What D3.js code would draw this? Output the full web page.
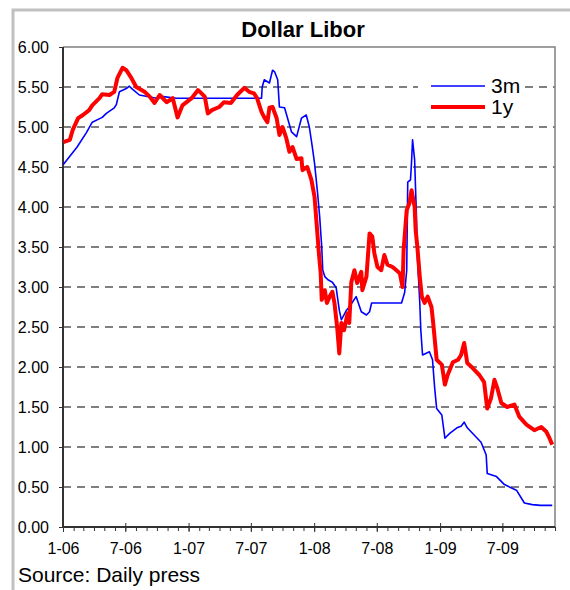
<!DOCTYPE html>
<html>
<head>
<meta charset="utf-8">
<title>Dollar Libor</title>
<script src="https://cdnjs.cloudflare.com/ajax/libs/d3/7.8.5/d3.min.js"></script>
<style>
  body { margin: 0; background: #fff; }
  text { font-family: Arial, "Liberation Sans", sans-serif; }
</style>
</head>
<body>
<script>
// 3 month libor
var dates3m = ["2006-01-02","2006-02-11","2006-03-10","2006-03-27","2006-04-25","2006-05-07","2006-05-30",
  "2006-06-05","2006-06-14","2006-07-04","2006-07-13","2006-07-20","2006-08-11","2006-09-30","2006-10-20",
  "2006-11-27","2007-03-01","2007-06-01","2007-08-01","2007-08-03","2007-08-09","2007-08-24","2007-09-02",
  "2007-09-08","2007-09-17","2007-09-22","2007-10-07","2007-10-27","2007-11-11","2007-11-25","2007-12-09",
  "2007-12-18","2007-12-27","2008-01-02","2008-01-11","2008-01-17","2008-01-23","2008-01-26","2008-02-01",
  "2008-02-10","2008-02-23","2008-03-05","2008-03-14","2008-03-20","2008-04-04","2008-04-12","2008-05-02",
  "2008-05-17","2008-06-01","2008-06-10","2008-06-16","2008-07-20","2008-09-11","2008-09-20","2008-09-26",
  "2008-09-29","2008-10-07","2008-10-10","2008-10-13","2008-10-19","2008-10-24","2008-10-27","2008-11-03",
  "2008-11-06","2008-11-11","2008-12-01","2008-12-10","2008-12-16","2008-12-22","2009-01-06","2009-01-15",
  "2009-01-29","2009-02-19","2009-03-03","2009-03-12","2009-03-21","2009-04-10","2009-04-30","2009-05-15",
  "2009-05-18","2009-06-14","2009-07-07","2009-08-11","2009-09-03","2009-09-26","2009-10-20","2009-11-23"];
var rate3m = [4.53,4.75,4.93,5.06,5.12,5.17,5.24,
  5.28,5.44,5.48,5.51,5.48,5.40,5.36,5.38,
  5.36,5.36,5.36,5.36,5.50,5.59,5.55,5.71,
  5.69,5.59,5.25,5.24,4.94,4.88,5.11,5.15,
  5.00,4.74,4.55,4.17,3.88,3.50,3.21,3.13,
  3.09,3.06,2.99,2.71,2.59,2.71,2.75,2.88,
  2.69,2.65,2.69,2.80,2.80,2.80,2.93,3.21,
  4.31,4.34,4.56,4.84,4.59,3.92,3.38,2.80,
  2.46,2.15,2.19,2.09,1.75,1.48,1.40,1.11,
  1.17,1.24,1.26,1.31,1.24,1.15,1.06,0.90,
  0.67,0.63,0.53,0.46,0.30,0.28,0.27,0.27];

// 1 year libor
var dates1y = ["2006-01-02","2006-01-21","2006-01-29","2006-02-14","2006-02-28","2006-03-18","2006-03-27",
  "2006-04-17","2006-04-25","2006-05-16","2006-05-30","2006-06-08","2006-06-23","2006-07-04","2006-07-19",
  "2006-08-02","2006-08-26","2006-09-10","2006-09-24","2006-10-09","2006-10-29","2006-11-16","2006-11-30",
  "2006-12-14","2007-01-10","2007-01-28","2007-02-03","2007-02-17","2007-02-26","2007-03-10","2007-03-31",
  "2007-04-14","2007-05-04","2007-05-22","2007-06-12","2007-06-26","2007-07-10","2007-07-19","2007-08-01",
  "2007-08-09","2007-08-18","2007-08-24","2007-09-02","2007-09-14","2007-09-22","2007-10-01","2007-10-12",
  "2007-10-21","2007-10-30","2007-11-11","2007-11-25","2007-11-28","2007-12-12","2007-12-24","2008-01-02",
  "2008-01-08","2008-01-14","2008-01-20","2008-01-23","2008-02-01","2008-02-07","2008-02-15","2008-02-23",
  "2008-02-29","2008-03-08","2008-03-14","2008-03-20","2008-03-28","2008-04-07","2008-04-12","2008-04-18",
  "2008-04-27","2008-05-05","2008-05-17","2008-05-20","2008-06-01","2008-06-10","2008-06-18","2008-06-24",
  "2008-07-03","2008-07-14","2008-07-23","2008-08-01","2008-08-16","2008-08-27","2008-09-06","2008-09-14",
  "2008-09-17","2008-09-26","2008-10-04","2008-10-10","2008-10-19","2008-10-22","2008-10-27","2008-11-03",
  "2008-11-09","2008-11-17","2008-11-26","2008-12-07","2008-12-12","2008-12-22","2009-01-06","2009-01-15",
  "2009-01-23","2009-02-07","2009-02-22","2009-03-03","2009-03-12","2009-03-21","2009-04-05","2009-04-25",
  "2009-05-09","2009-05-18","2009-05-29","2009-06-08","2009-06-16","2009-06-28","2009-07-15","2009-08-05",
  "2009-08-19","2009-09-09","2009-10-02","2009-10-22","2009-11-06","2009-11-15","2009-11-23"];
var rate1y = [4.81,4.84,4.96,5.11,5.15,5.21,5.27,
  5.36,5.41,5.40,5.44,5.61,5.74,5.71,5.61,
  5.50,5.44,5.38,5.30,5.40,5.31,5.36,5.12,
  5.27,5.36,5.46,5.44,5.38,5.17,5.21,5.25,
  5.31,5.30,5.40,5.49,5.44,5.42,5.36,5.19,
  5.12,5.06,5.24,5.25,5.11,4.90,5.00,4.86,
  4.69,4.75,4.60,4.61,4.46,4.50,4.34,4.13,
  3.80,3.46,3.17,2.84,2.96,2.80,2.88,2.94,
  2.80,2.49,2.17,2.55,2.46,2.67,2.55,3.06,
  3.21,3.05,3.19,2.96,3.13,3.67,3.63,3.42,
  3.25,3.21,3.40,3.28,3.25,3.21,3.17,3.00,
  3.46,3.96,4.05,4.21,4.00,3.71,3.50,3.13,
  2.88,2.80,2.88,2.75,2.55,2.09,2.03,1.78,
  1.90,2.06,2.09,2.15,2.30,2.05,1.99,1.90,
  1.81,1.48,1.61,1.84,1.74,1.55,1.50,1.53,
  1.38,1.28,1.21,1.25,1.19,1.11,1.03];

var yTicks = [0, 0.5, 1, 1.5, 2, 2.5, 3, 3.5, 4, 4.5, 5, 5.5, 6];
var xStart = "2006-01-01", xEnd = "2009-12-01";
var seriesNames = ["3m", "1y"];
var seriesColors = ["#0000ff", "#ff0000"];

function draw() {
    var parse = d3.timeParse("%Y-%m-%d");
    var W = 570, H = 590;
    var pLeft = 63, pRight = 555, pTop = 47, pBottom = 527;
    var font = "Arial, 'Liberation Sans', sans-serif";

    var svg = d3.select("body").append("svg")
        .attr("width", W)
        .attr("height", H);

    // outer frame
    svg.append("rect")
        .attr("x", 13).attr("y", 10)
        .attr("width", 620).attr("height", 620)
        .attr("fill", "#fff")
        .attr("stroke", "#c0c0c0")
        .attr("stroke-width", 3);

    var x = d3.scaleTime().domain([parse(xStart), parse(xEnd)]).range([pLeft, pRight]);
    var y = d3.scaleLinear().domain([0, 6]).range([pBottom, pTop]);

    // grid lines
    svg.append("g").selectAll("line")
        .data(yTicks.filter(function(d){ return d > 0 && d < 6; }))
        .enter().append("line")
        .attr("x1", pLeft).attr("x2", pRight)
        .attr("y1", function(d){ return y(d); })
        .attr("y2", function(d){ return y(d); })
        .attr("stroke", "#000")
        .attr("stroke-width", 1)
        .attr("stroke-dasharray", "8,6");

    // plot border top/right
    svg.append("path")
        .attr("d", "M" + pLeft + "," + pTop + "H" + pRight + "V" + pBottom)
        .attr("fill", "none")
        .attr("stroke", "#808080")
        .attr("stroke-width", 1.5);

    // y axis
    var yAxis = svg.append("g")
        .attr("transform", "translate(" + pLeft + ",0)")
        .call(d3.axisLeft(y).tickValues(yTicks).tickSize(4).tickPadding(10)
            .tickFormat(d3.format(".2f")));
    yAxis.select(".domain").remove();
    yAxis.selectAll("text").attr("font-size", 16).attr("fill", "#000").attr("font-family", font);

    // x axis: monthly minor ticks
    var xMinor = svg.append("g")
        .attr("transform", "translate(0," + pBottom + ")")
        .call(d3.axisBottom(x).ticks(d3.timeMonth.every(1)).tickSize(4).tickFormat(""));
    xMinor.select(".domain").remove();

    var xMajor = svg.append("g")
        .attr("transform", "translate(0," + pBottom + ")")
        .call(d3.axisBottom(x).ticks(d3.timeMonth.every(6)).tickSize(5).tickPadding(11)
            .tickFormat(d3.timeFormat("%-m-%y")));
    xMajor.select(".domain").remove();
    xMajor.selectAll("line").attr("y1", -4);
    xMajor.selectAll("text").attr("font-size", 16).attr("fill", "#000").attr("font-family", font);
    svg.selectAll(".tick line").attr("stroke", "#333");

    // axis lines
    svg.append("line")
        .attr("x1", pLeft).attr("x2", pLeft).attr("y1", pTop).attr("y2", pBottom)
        .attr("stroke", "#333").attr("stroke-width", 2);
    svg.append("line")
        .attr("x1", pLeft - 1).attr("x2", pRight).attr("y1", pBottom).attr("y2", pBottom)
        .attr("stroke", "#333").attr("stroke-width", 2);

    // series
    var data3m = dates3m.map(function(d, i){ return { date: parse(d), value: rate3m[i] }; });
    var data1y = dates1y.map(function(d, i){ return { date: parse(d), value: rate1y[i] }; });

    var line = d3.line()
        .x(function(d){ return x(d.date); })
        .y(function(d){ return y(d.value); });

    svg.append("path")
        .datum(data3m)
        .attr("d", line)
        .attr("fill", "none")
        .attr("stroke", seriesColors[0])
        .attr("stroke-width", 1.6)
        .attr("stroke-linejoin", "round");

    svg.append("path")
        .datum(data1y)
        .attr("d", line)
        .attr("fill", "none")
        .attr("stroke", seriesColors[1])
        .attr("stroke-width", 4)
        .attr("stroke-linejoin", "round");

    // legend
    var legend = svg.append("g");
    legend.append("rect")
        .attr("x", 418).attr("y", 72).attr("width", 107).attr("height", 46)
        .attr("fill", "#fff");
    seriesNames.forEach(function(name, i){
        var ly = 86 + i * 21;
        legend.append("line")
            .attr("x1", 431).attr("x2", 485)
            .attr("y1", ly).attr("y2", ly)
            .attr("stroke", seriesColors[i])
            .attr("stroke-width", i === 0 ? 1.6 : 4);
        legend.append("text")
            .attr("x", 491).attr("y", ly + 7)
            .attr("font-size", 21)
            .attr("fill", "#000")
            .text(name);
    });

    // title
    svg.append("text")
        .attr("x", 303).attr("y", 37)
        .attr("text-anchor", "middle")
        .attr("font-size", 22)
        .attr("font-weight", "bold")
        .text("Dollar Libor");

    // source
    svg.append("text")
        .attr("x", 18).attr("y", 582)
        .attr("font-size", 21)
        .text("Source: Daily press");
}

draw();
</script>
</body>
</html>
